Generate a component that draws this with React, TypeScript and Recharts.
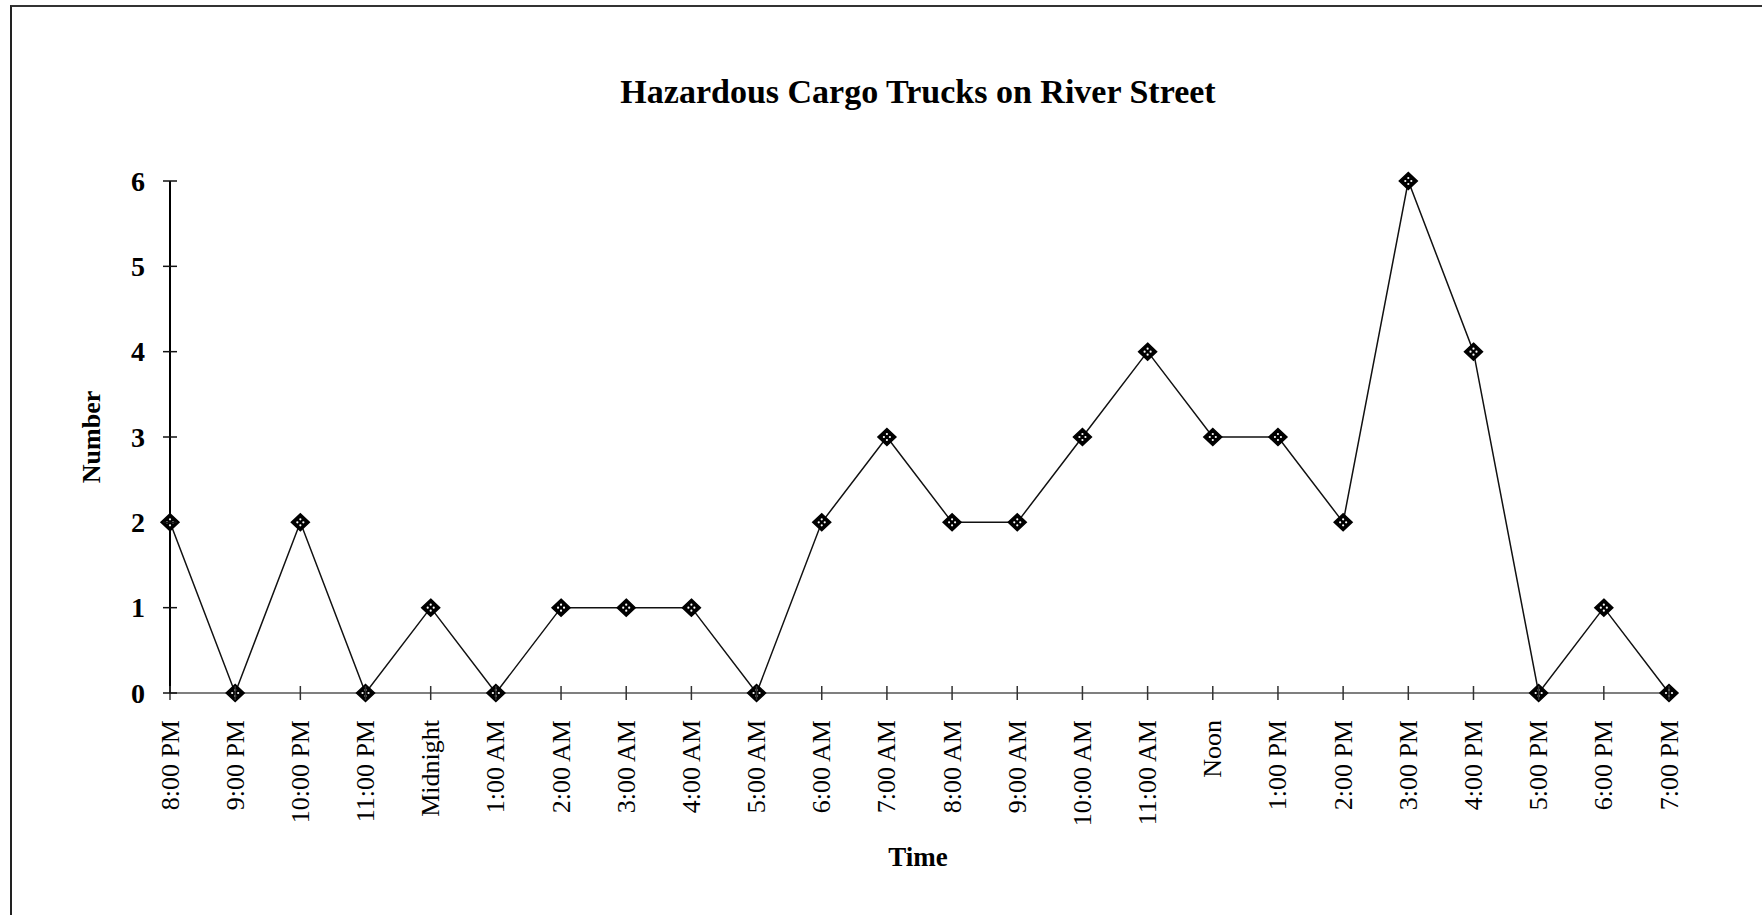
import React from 'react';
import { LineChart, Line, XAxis, YAxis } from 'recharts';

const categories = [
  '8:00 PM', '9:00 PM', '10:00 PM', '11:00 PM', 'Midnight', '1:00 AM', '2:00 AM', '3:00 AM',
  '4:00 AM', '5:00 AM', '6:00 AM', '7:00 AM', '8:00 AM', '9:00 AM', '10:00 AM', '11:00 AM',
  'Noon', '1:00 PM', '2:00 PM', '3:00 PM', '4:00 PM', '5:00 PM', '6:00 PM', '7:00 PM',
];
const trucks = [2, 0, 2, 0, 1, 0, 1, 1, 1, 0, 2, 3, 2, 2, 3, 4, 3, 3, 2, 6, 4, 0, 1, 0];
const yTicks = [0, 1, 2, 3, 4, 5, 6];

const title = 'Hazardous Cargo Trucks on River Street';
const xTitle = 'Time';
const yTitle = 'Number';

const data = categories.map((c, i) => ({ time: c, value: trucks[i] }));

const FONT = '"Liberation Serif", "Times New Roman", serif';

const XTick = (props: any) => {
  const { x, y, payload } = props;
  const ty = y + 27;
  return (
    <g>
      <line x1={x} y1={y - 7} x2={x} y2={y + 7} stroke="#333" strokeWidth={1.5} />
      <text
        x={x}
        y={ty}
        transform={`rotate(-90, ${x}, ${ty})`}
        textAnchor="end"
        dominantBaseline="central"
        fontFamily={FONT}
        fontSize={26}
        fill="#000"
      >
        {payload.value}
      </text>
    </g>
  );
};

const YTick = (props: any) => {
  const { x, y, payload } = props;
  return (
    <g>
      <line x1={x - 7} y1={y} x2={x + 7} y2={y} stroke="#111" strokeWidth={1.5} />
      <text
        x={x - 25}
        y={y}
        textAnchor="end"
        dominantBaseline="central"
        fontFamily={FONT}
        fontWeight="bold"
        fontSize={28}
        fill="#000"
      >
        {payload.value}
      </text>
    </g>
  );
};

const Diamond = (props: any) => {
  const { cx, cy, index } = props;
  if (cx == null || cy == null) return null;
  const w = 9;
  const h = 8.5;
  return (
    <g key={`d-${index}`}>
      <polygon
        points={`${cx},${cy - h} ${cx + w},${cy} ${cx},${cy + h} ${cx - w},${cy}`}
        fill="#000"
        stroke="#000"
        strokeWidth={1.5}
      />
      <circle cx={cx - 3} cy={cy} r={1.1} fill="#fff" />
      <circle cx={cx + 3} cy={cy} r={1.1} fill="#fff" />
      <circle cx={cx} cy={cy - 3} r={1.1} fill="#fff" />
      <circle cx={cx} cy={cy + 3} r={1.1} fill="#fff" />
    </g>
  );
};

export default function App() {
  return (
    <div
      style={{
        position: 'absolute',
        left: 0,
        top: 0,
        width: 1762,
        height: 915,
        overflow: 'hidden',
        background: '#fff',
        fontFamily: FONT,
      }}
    >
      <div style={{ position: 'absolute', left: 0, top: 0 }}>
        <LineChart
          width={1762}
          height={915}
          data={data}
          margin={{ top: 181, right: 93, bottom: 0, left: 0 }}
        >
          <XAxis
            dataKey="time"
            interval={0}
            height={222}
            tickSize={0}
            tickMargin={0}
            tickLine={false}
            tick={<XTick />}
            axisLine={{ stroke: '#555', strokeWidth: 1.5 }}
            padding={{ left: 0, right: 0 }}
          />
          <YAxis
            width={170}
            domain={[0, 6]}
            ticks={yTicks}
            interval={0}
            tickSize={0}
            tickMargin={0}
            tickLine={false}
            tick={<YTick />}
            axisLine={{ stroke: '#000', strokeWidth: 2 }}
          />
          <Line
            type="linear"
            dataKey="value"
            stroke="#111"
            strokeWidth={1.5}
            dot={(p: any) => <Diamond {...p} />}
            activeDot={false}
            isAnimationActive={false}
          />
        </LineChart>
      </div>
      <div
        style={{
          position: 'absolute',
          left: 10,
          top: 5,
          width: 1800,
          height: 1000,
          borderLeft: '2px solid #222',
          borderTop: '2px solid #333',
          pointerEvents: 'none',
        }}
      />
      <div
        style={{
          position: 'absolute',
          left: 918,
          top: 92,
          transform: 'translate(-50%, -50%)',
          whiteSpace: 'nowrap',
          fontSize: 34,
          fontWeight: 'bold',
          lineHeight: 1,
          color: '#000',
        }}
      >
        {title}
      </div>
      <div
        style={{
          position: 'absolute',
          left: 92,
          top: 437,
          transform: 'translate(-50%, -50%) rotate(-90deg)',
          whiteSpace: 'nowrap',
          fontSize: 26,
          fontWeight: 'bold',
          lineHeight: 1,
          color: '#000',
        }}
      >
        {yTitle}
      </div>
      <div
        style={{
          position: 'absolute',
          left: 918,
          top: 857,
          transform: 'translate(-50%, -50%)',
          whiteSpace: 'nowrap',
          fontSize: 27,
          fontWeight: 'bold',
          lineHeight: 1,
          color: '#000',
        }}
      >
        {xTitle}
      </div>
    </div>
  );
}
